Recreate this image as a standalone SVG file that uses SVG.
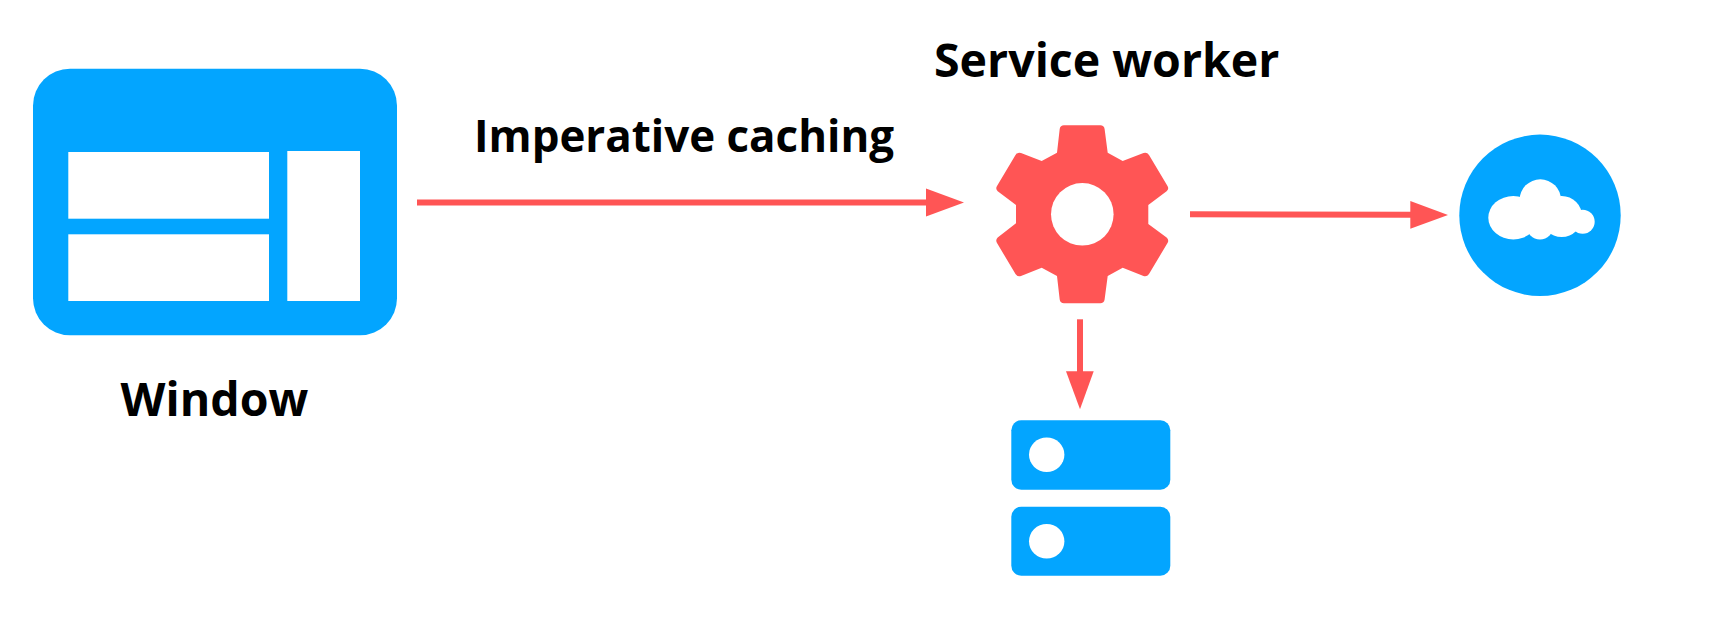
<svg xmlns="http://www.w3.org/2000/svg" width="1724" height="642" viewBox="0 0 1724 642">
<style>
.blue{fill:#03a5ff}
.red{fill:#ff5555}
.hole{fill:#fff}
.label{font-family:"Open Sans","DejaVu Sans",sans-serif;font-weight:700;font-size:46.500px;fill:#000}
.edge-label{font-size:43.900px}
.wire{stroke:#ff5555;stroke-width:6;fill:none}
</style>
<rect width="1724" height="642" fill="#fff"/>
<g id="window">
<rect class="blue" x="33" y="68.700" width="364" height="266.600" rx="37" ry="37"/>
<rect class="hole" x="68.300" y="152" width="200.700" height="66.700"/>
<rect class="hole" x="68.300" y="234.300" width="200.700" height="66.700"/>
<rect class="hole" x="287.300" y="151" width="72.700" height="150"/>
<text class="label" x="120.500" y="415.500">Window</text>
</g>
<g id="service-worker">
<path class="red" d="M1064 125.300H1100.300Q1104 125.300 1104.600 129L1107.700 152.700L1122.700 161L1143.500 153Q1147 151.800 1149 155L1167.500 186Q1169.300 189 1166.600 191.200L1148.300 205V224L1166.600 237.500Q1169.300 240 1167.500 243L1149 274Q1147 277 1143.500 276L1122.700 267.700L1107.700 276L1104.600 299.500Q1104 303.300 1100.300 303.300H1064Q1060.300 303.300 1059.700 299.500L1057 276L1041.700 267.700L1021 276Q1017.500 277 1015.500 274L997 243Q995.200 240 997.700 237.500L1016 223.300V205L997.700 191.200Q995.200 189 997 186L1015.500 155Q1017.500 151.800 1021 153L1041.700 161L1057 152.700L1059.700 129Q1060.300 125.300 1064 125.300Z"/>
<circle class="hole" cx="1082.300" cy="214.300" r="31.300"/>
<text class="label" x="934" y="76.700">Service worker</text>
</g>
<g id="cloud">
<circle class="blue" cx="1540" cy="215.300" r="80.700"/>
<ellipse class="hole" cx="1513.300" cy="217.700" rx="25" ry="21.700"/>
<circle class="hole" cx="1540.300" cy="200" r="20.700"/>
<circle class="hole" cx="1561.700" cy="216.500" r="20.500"/>
<circle class="hole" cx="1540" cy="226" r="13.500"/>
<circle class="hole" cx="1582.700" cy="221.700" r="12"/>
</g>
<g id="storage">
<rect class="blue" x="1011.300" y="420.300" width="159" height="69.400" rx="10"/>
<ellipse class="hole" cx="1046.700" cy="454.700" rx="17.700" ry="17.300"/>
<rect class="blue" x="1011.300" y="506.700" width="159" height="69" rx="10"/>
<ellipse class="hole" cx="1046.700" cy="541.300" rx="17.700" ry="17.300"/>
</g>
<g id="connectors">
<path class="wire" d="M417 202.500H930"/>
<path class="red" d="M926 188.500L964 202.500L926 216.500Z"/>
<path class="wire" d="M1190 214.300L1412 214.800"/>
<path class="red" d="M1410.300 201L1448 215L1410.300 228.700Z"/>
<path class="wire" d="M1080 319.300V374"/>
<path class="red" d="M1066 371.300H1093.700L1080 409.300Z"/>
<text class="label edge-label" x="474" y="151.500">Imperative caching</text>
</g>
</svg>
